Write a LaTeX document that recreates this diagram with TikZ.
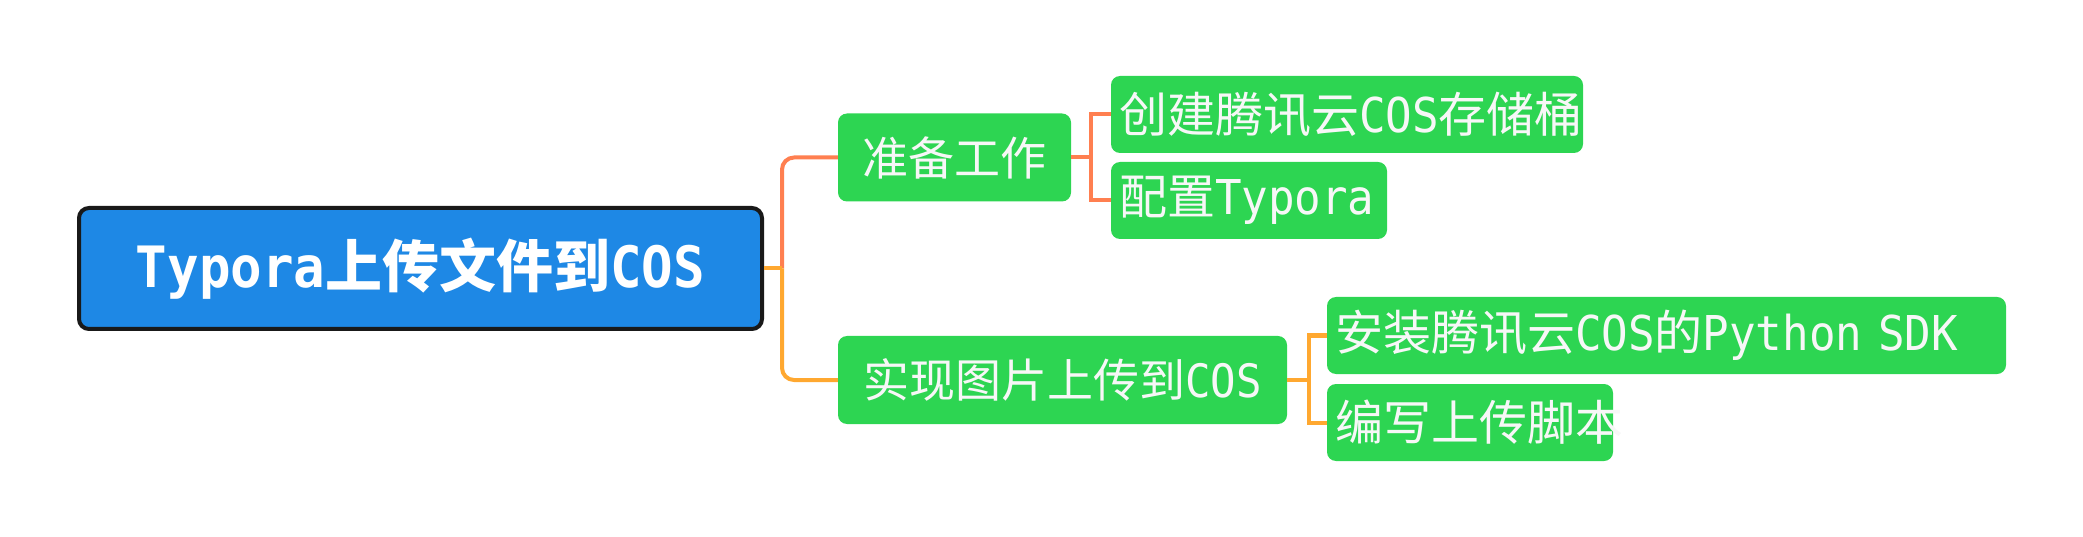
\documentclass[tikz,border=0pt]{standalone}
\usepackage{fontspec}
\setmainfont{Noto Sans CJK SC}
\newfontfamily\lat[FakeStretch=0.92]{DejaVu Sans Mono}
\definecolor{rootblue}{HTML}{1E88E5}
\definecolor{leafgreen}{HTML}{2DD552}
\definecolor{cA}{HTML}{FF7F50}
\definecolor{cB}{HTML}{FFA830}
\tikzset{
  rootbox/.style={draw=black!90, line width=4pt, fill=rootblue, rounded corners=10pt,
    text=white, font=\fontsize{57}{57}\selectfont\bfseries,
    minimum width=683pt, minimum height=121pt, inner sep=0pt},
  branchbox/.style={fill=leafgreen, rounded corners=9pt, text=white!97!black,
    font=\fontsize{46}{46}\selectfont, inner sep=0pt, minimum height=88pt},
  leafbox/.style={fill=leafgreen, rounded corners=9pt, text=white!97!black,
    font=\fontsize{48}{48}\selectfont, inner xsep=8pt, inner ysep=0pt,
    minimum height=77pt, align=left},
  conn/.style={line width=4pt}
}
\begin{document}
\begin{tikzpicture}[x=1pt,y=-1pt]
\useasboundingbox (0,0) rectangle (2083,537);
\node[rootbox] (root) at (420.5,268.5) {{\lat Typora}上传文件到{\lat COS}};
\node[branchbox, minimum width=233pt] (b1) at (954.5,157.5) {准备工作};
\node[branchbox, minimum width=449pt] (b2) at (1062.5,380) {实现图片上传到{\lat COS}};
\node[leafbox, text width=456pt] (l1) at (1347,114.5) {创建腾讯云{\lat COS}存储桶};
\node[leafbox, text width=260pt] (l2) at (1249,200.5) {配置{\lat Typora}};
\node[leafbox, text width=663pt] (l3) at (1666.5,335.5) {安装腾讯云{\lat COS}的{\lat Python SDK}};
\node[leafbox, text width=270pt] (l4) at (1470,422.5) {编写上传脚本};
\coordinate (j0) at (782,268.5);
\coordinate (j1) at (1090.6,157.5);
\coordinate (j2) at (1308.5,380);
\draw[conn, cA, rounded corners=12pt] (j0) |- (b1.west);
\draw[conn, cB, rounded corners=12pt] (j0) |- (b2.west);
\draw[conn, cB] (root.east) -- (j0);
\draw[conn, cA] (b1.east) -- (j1) |- (l1.west);
\draw[conn, cA] (j1) |- (l2.west);
\draw[conn, cB] (b2.east) -- (j2) |- (l3.west);
\draw[conn, cB] (j2) |- (l4.west);
\end{tikzpicture}
\end{document}
